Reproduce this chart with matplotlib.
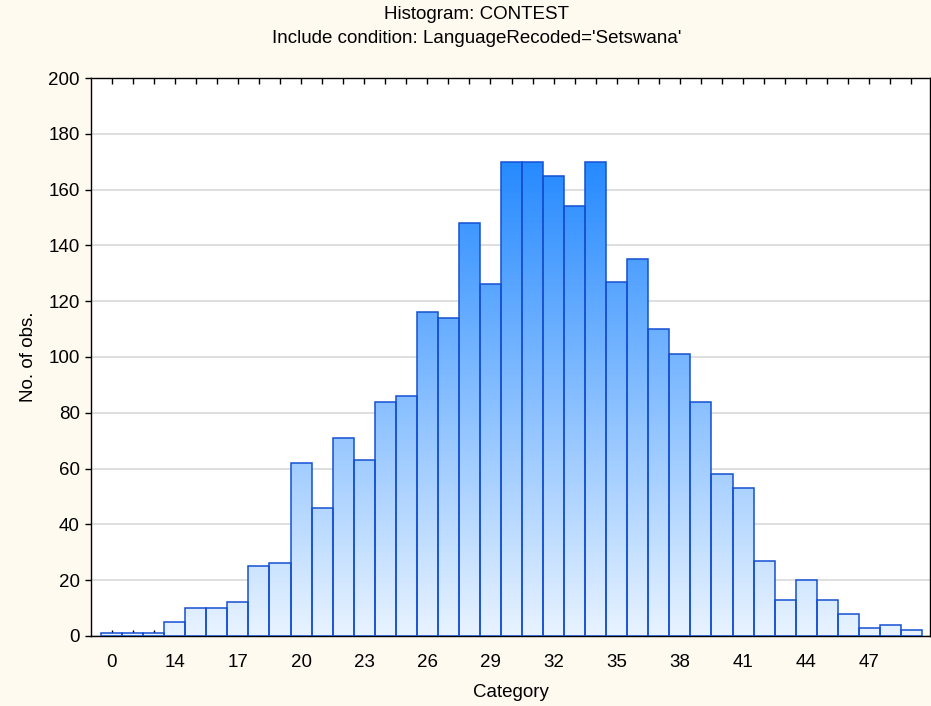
import numpy as np
import matplotlib
matplotlib.use("Agg")
import matplotlib.pyplot as plt
from matplotlib.colors import LinearSegmentedColormap, Normalize
from matplotlib.path import Path

plt.rcParams['font.family'] = ['Liberation Sans', 'DejaVu Sans']

# histogram data
categories = list(range(11, 50))
counts = [1, 1, 1, 5, 10, 10, 12, 25, 26, 62,
          46, 71, 63, 84, 86, 116, 114, 148, 126, 170,
          170, 165, 154, 170, 127, 135, 110, 101, 84, 58,
          53, 27, 13, 20, 13, 8, 3, 4, 2]
tick_pos = list(range(11, 50, 3))
tick_labels = ['0', '14', '17', '20', '23', '26', '29', '32', '35', '38', '41', '44', '47']

fig = plt.figure(figsize=(9.31, 7.06), dpi=100, facecolor='#fffaf0')
ax = fig.add_axes([0.0977, 0.0992, 0.9012, 0.7903])
ax.set_facecolor('white')

bars = ax.bar(categories, counts, width=1.0, facecolor='none',
              edgecolor='#1550d2', linewidth=1.1, zorder=3)

# vertical gradient fill, colour depends on absolute height
cmap = LinearSegmentedColormap.from_list('blues', ['#e8f3ff', '#268aff'])
grad = np.linspace(0, 200, 400).reshape(-1, 1)
im = ax.imshow(grad, cmap=cmap, norm=Normalize(0, 170), origin='lower',
               extent=(10, 50, 0, 200), aspect='auto', zorder=2)
clip = Path.make_compound_path(*[b.get_path().transformed(b.get_patch_transform())
                                 for b in bars])
im.set_clip_path(clip, ax.transData)

ax.set_xlim(10.02, 49.88)
ax.set_ylim(0, 200)
ax.set_yticks(np.arange(0, 201, 20))
ax.yaxis.grid(True, color='#d9d9d9', linewidth=1.2, zorder=0)
ax.set_axisbelow(True)

ax.set_xticks(categories, minor=True)
ax.set_xticks(tick_pos)
ax.set_xticklabels(tick_labels)
ax.tick_params(axis='x', which='both', direction='in', length=4, top=True,
               width=1, color='black')
ax.tick_params(axis='x', which='major', pad=13, labelsize=13.5)
ax.tick_params(axis='y', direction='out', length=4, width=1, right=True,
               pad=4, labelsize=13.5)

for s in ax.spines.values():
    s.set_linewidth(1.0)
    s.set_color('black')

ax.set_xlabel('Category', fontsize=13.5, labelpad=9)
ax.set_ylabel('No. of obs.', fontsize=13.5, labelpad=8)
fig.text(0.512, 0.979, 'Histogram: CONTEST', ha='center', va='center', fontsize=13.5)
fig.text(0.512, 0.946, "Include condition: LanguageRecoded='Setswana'",
         ha='center', va='center', fontsize=13.5)

fig.savefig('out.png', dpi=100, facecolor=fig.get_facecolor())
